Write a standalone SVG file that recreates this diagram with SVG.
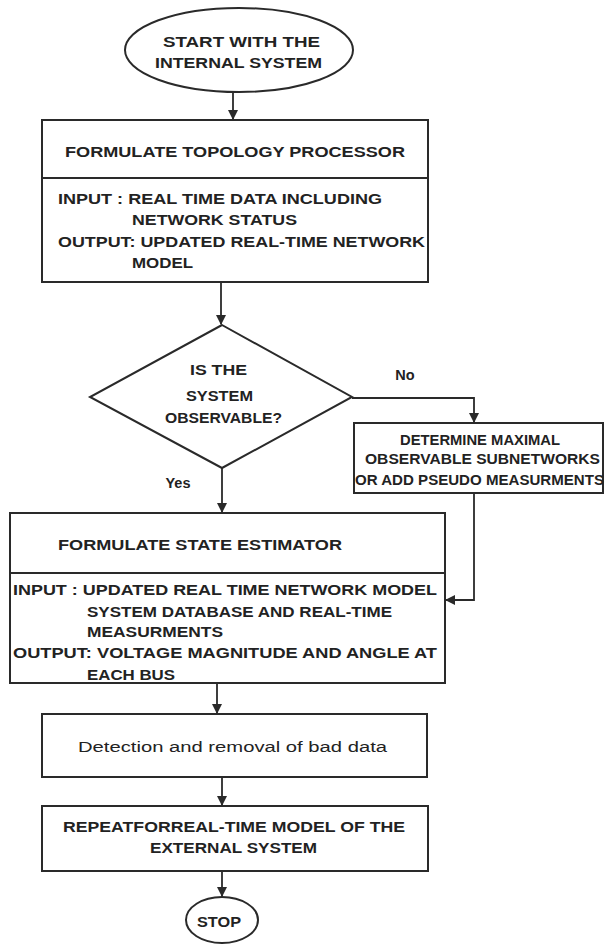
<svg xmlns="http://www.w3.org/2000/svg" width="605" height="945" viewBox="0 0 605 945">
<style>
.shape{fill:none;stroke:#2a2a2a;stroke-width:2}
.conn{fill:none;stroke:#2a2a2a;stroke-width:1.8}
text{font-family:"Liberation Sans",Arial,sans-serif;font-weight:bold;font-size:14.5px;fill:#222}
.n{font-weight:normal;font-size:15.5px}
.m{font-weight:bold;font-size:14px}
</style>
<defs>
<marker id="ah" markerWidth="10" markerHeight="10" refX="9" refY="5" orient="auto" markerUnits="userSpaceOnUse">
<path d="M0,0 L10,5 L0,10 z" fill="#2a2a2a"/>
</marker>
</defs>
<rect width="605" height="945" fill="#fff"/>
<g id="connectors">
<path class="conn" d="M233,92 V119" marker-end="url(#ah)"/>
<path class="conn" d="M221,282 V324" marker-end="url(#ah)"/>
<path class="conn" d="M352,398 H474 V422" marker-end="url(#ah)"/>
<path class="conn" d="M474,493 V600 H446" marker-end="url(#ah)"/>
<path class="conn" d="M222,468 V512" marker-end="url(#ah)"/>
<path class="conn" d="M217,683 V713" marker-end="url(#ah)"/>
<path class="conn" d="M222,777 V805" marker-end="url(#ah)"/>
<path class="conn" d="M222,871 V896" marker-end="url(#ah)"/>
<text x="405" y="380" text-anchor="middle">No</text>
<text x="178" y="488" text-anchor="middle">Yes</text>
</g>
<g id="start">
<ellipse class="shape" cx="239" cy="50" rx="114" ry="42"/>
<text x="163" y="47" textLength="157" lengthAdjust="spacingAndGlyphs">START WITH THE</text>
<text x="155" y="68" textLength="167" lengthAdjust="spacingAndGlyphs">INTERNAL SYSTEM</text>
</g>
<g id="topology">
<rect class="shape" x="42" y="120" width="386" height="162"/>
<line class="shape" x1="42" y1="178" x2="428" y2="178"/>
<text x="65" y="157" textLength="340" lengthAdjust="spacingAndGlyphs">FORMULATE TOPOLOGY PROCESSOR</text>
<text x="58" y="204" textLength="324" lengthAdjust="spacingAndGlyphs">INPUT : REAL TIME DATA INCLUDING</text>
<text x="132" y="225" textLength="165" lengthAdjust="spacingAndGlyphs">NETWORK STATUS</text>
<text x="58" y="247" textLength="367" lengthAdjust="spacingAndGlyphs">OUTPUT: UPDATED REAL-TIME NETWORK</text>
<text x="132" y="268" textLength="61" lengthAdjust="spacingAndGlyphs">MODEL</text>
</g>
<g id="decision">
<polygon class="shape" points="222,325 352,397 222,468 90,397"/>
<text x="190" y="375" textLength="57" lengthAdjust="spacingAndGlyphs">IS THE</text>
<text x="186" y="401" textLength="67" lengthAdjust="spacingAndGlyphs">SYSTEM</text>
<text x="165" y="423" textLength="117" lengthAdjust="spacingAndGlyphs">OBSERVABLE?</text>
</g>
<g id="determine">
<rect class="shape" x="354" y="423" width="249" height="70"/>
<text class="m" x="400" y="445" textLength="160" lengthAdjust="spacingAndGlyphs">DETERMINE MAXIMAL</text>
<text class="m" x="365" y="464" textLength="235" lengthAdjust="spacingAndGlyphs">OBSERVABLE SUBNETWORKS</text>
<text class="m" x="355" y="485" textLength="249" lengthAdjust="spacingAndGlyphs">OR ADD PSEUDO MEASURMENTS</text>
</g>
<g id="estimator">
<rect class="shape" x="10" y="513" width="435" height="170"/>
<line class="shape" x1="10" y1="573" x2="445" y2="573"/>
<text x="58" y="550" textLength="284" lengthAdjust="spacingAndGlyphs">FORMULATE STATE ESTIMATOR</text>
<text x="13" y="595" textLength="424" lengthAdjust="spacingAndGlyphs">INPUT : UPDATED REAL TIME NETWORK MODEL</text>
<text x="87" y="617" textLength="305" lengthAdjust="spacingAndGlyphs">SYSTEM DATABASE AND REAL-TIME</text>
<text x="87" y="637" textLength="136" lengthAdjust="spacingAndGlyphs">MEASURMENTS</text>
<text x="13" y="658" textLength="424" lengthAdjust="spacingAndGlyphs">OUTPUT: VOLTAGE MAGNITUDE AND ANGLE AT</text>
<text x="87" y="680" textLength="88" lengthAdjust="spacingAndGlyphs">EACH BUS</text>
</g>
<g id="detection">
<rect class="shape" x="42" y="714" width="385" height="63"/>
<text class="n" x="78" y="752" textLength="309" lengthAdjust="spacingAndGlyphs">Detection and removal of bad data</text>
</g>
<g id="repeat">
<rect class="shape" x="42" y="806" width="386" height="65"/>
<text x="63" y="832" textLength="342" lengthAdjust="spacingAndGlyphs">REPEATFORREAL-TIME MODEL OF THE</text>
<text x="150" y="853" textLength="167" lengthAdjust="spacingAndGlyphs">EXTERNAL SYSTEM</text>
</g>
<g id="stop">
<ellipse class="shape" cx="222" cy="920" rx="36" ry="23"/>
<text x="197" y="927" textLength="44" lengthAdjust="spacingAndGlyphs" font-size="16">STOP</text>
</g>
</svg>
